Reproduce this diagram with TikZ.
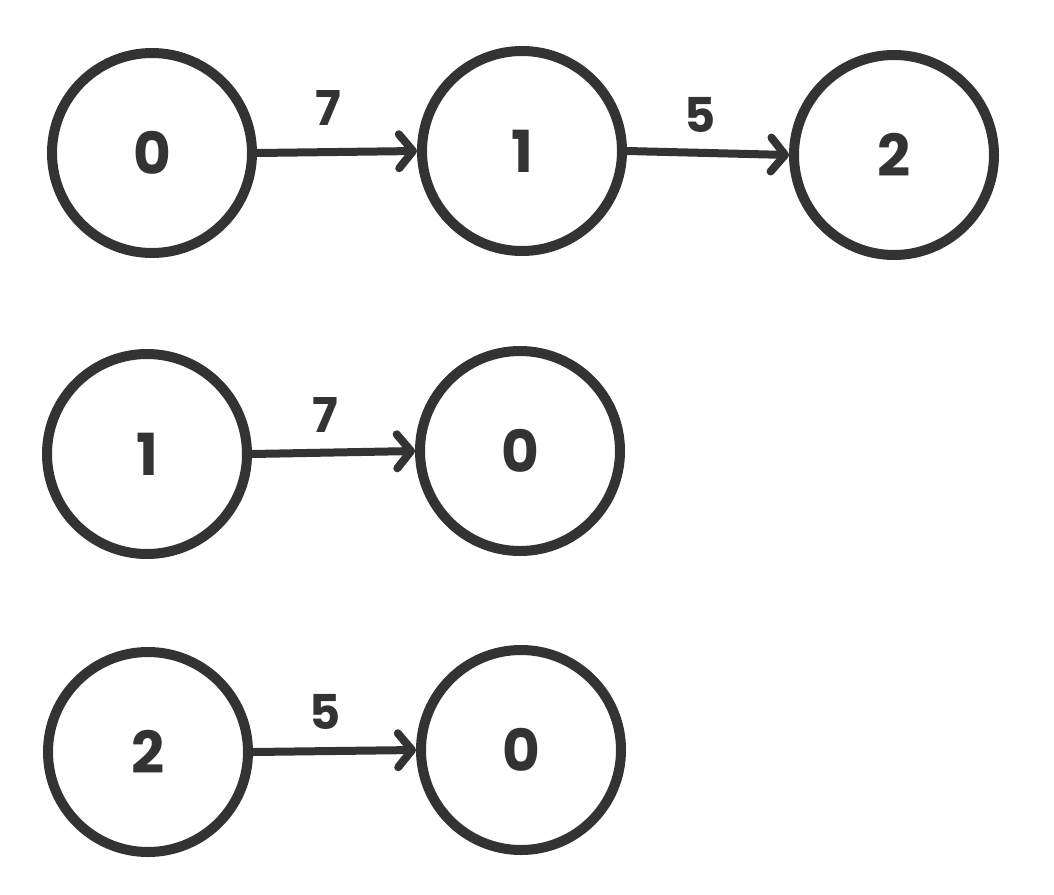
\documentclass[tikz,border=0pt]{standalone}
\usepackage{fontspec}
\setmainfont{Poppins}
\usetikzlibrary{arrows.meta}
\definecolor{ink}{HTML}{333333}
\begin{document}
\begin{tikzpicture}[x=1pt,y=-1pt,
  vert/.style={circle,draw=ink,line width=10pt,minimum size=200pt,inner sep=0pt,
    text=ink,font=\fontsize{58}{60}\selectfont\bfseries},
  edge/.style={draw=ink,line width=8pt,line cap=round,
    -{Straight Barb[length=14pt,width=34pt,round]}},
  wt/.style={text=ink,font=\fontsize{48}{52}\selectfont\bfseries,inner sep=0pt}]
\useasboundingbox (0,0) rectangle (1054,894);
\node[vert] (a0) at (152,153) {0};
\node[vert] (a1) at (522,151) {1};
\node[vert] (a2) at (894,155) {2};
\node[vert] (b1) at (147,454) {1};
\node[vert] (b0) at (520,451) {0};
\node[vert] (c2) at (148,752) {2};
\node[vert] (c0) at (521,750) {0};
\node[wt] (w1) at (328,108) {7};
\node[wt] (w2) at (700,115) {5};
\node[wt] (w3) at (325,415) {7};
\node[wt] (w4) at (325,712) {5};
\draw[edge] (a0.east) -- (a1.west);
\draw[edge] (a1.east) -- (a2.west);
\draw[edge] (b1.east) -- (b0.west);
\draw[edge] (c2.east) -- (c0.west);
\end{tikzpicture}
\end{document}
